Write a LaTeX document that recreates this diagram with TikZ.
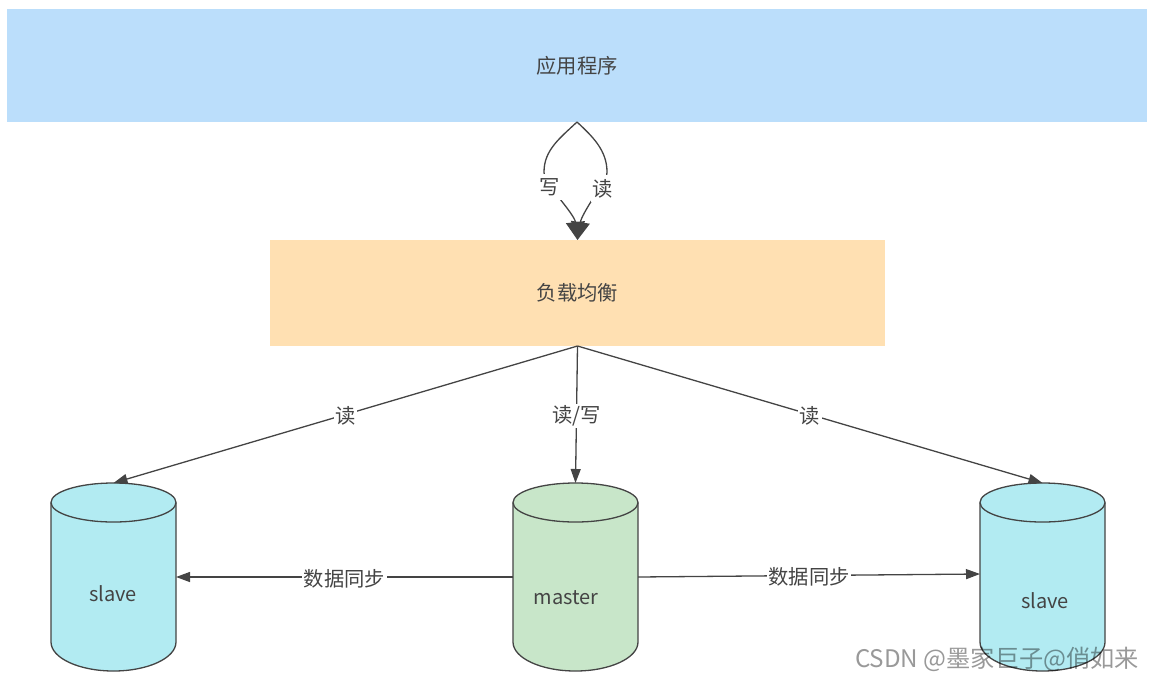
\documentclass[tikz,border=0pt]{standalone}
\usepackage{fontspec}
\setmainfont{Noto Sans CJK SC}
\usetikzlibrary{arrows.meta}
\definecolor{appblue}{HTML}{BBDEFB}
\definecolor{balanceorange}{HTML}{FFE0B2}
\definecolor{slavecyan}{HTML}{B2EBF2}
\definecolor{mastergreen}{HTML}{C8E6C9}
\definecolor{inkgray}{HTML}{444444}
\tikzset{
    boxnode/.style={draw=none, minimum width=#1, inner sep=0pt, outer sep=0pt, text=inkgray, font=\fontsize{20.3}{24}\selectfont},
    dbnode/.style={minimum width=125pt, minimum height=188pt, inner sep=0pt, outer sep=0pt},
    dbline/.style={draw=inkgray, line width=1.3pt},
    dbtext/.style={text=inkgray, font=\fontsize{20}{24}\selectfont},
    edgetext/.style={fill=white, text=inkgray, inner sep=1.5pt, yshift=-1.5pt, font=\fontsize{20.3}{24}\selectfont},
    link/.style={draw=inkgray, line width=1.3pt, -{Triangle[length=14pt,width=10pt]}},
    biglink/.style={draw=inkgray, line width=1.3pt, -{Triangle[length=18pt,width=19pt]}}
}
% name, fill
\newcommand{\drawdb}[2]{
    \draw[dbline, fill=#2]
        ([yshift=-19.5pt]#1.north west)
        arc[start angle=180, end angle=0, x radius=62.5pt, y radius=19.5pt] --
        ([yshift=29pt]#1.south east)
        arc[start angle=0, end angle=-180, x radius=62.5pt, y radius=29pt] --
        cycle;
    \draw[dbline]
        ([yshift=-19.5pt]#1.north west)
        arc[start angle=180, end angle=360, x radius=62.5pt, y radius=19.5pt];
}
\begin{document}
\begin{tikzpicture}[x=1pt, y=-1pt]
    \useasboundingbox (0,0) rectangle (1174,688);

    % boxes
    \node[boxnode=1140pt, fill=appblue, minimum height=113pt] (app) at (577,65.5) {\raisebox{-1pt}{应用程序}};
    \node[boxnode=615pt, fill=balanceorange, minimum height=106pt] (balance) at (577.5,293) {\raisebox{-1pt}{负载均衡}};

    % databases
    \node[dbnode] (slaveL) at (113.5,577) {};
    \node[dbnode] (master) at (575.5,577) {};
    \node[dbnode] (slaveR) at (1042.5,577) {};
    \drawdb{slaveL}{slavecyan}
    \drawdb{master}{mastergreen}
    \drawdb{slaveR}{slavecyan}
    \node[dbtext] (slaveLtext) at (113,594) {slave};
    \node[dbtext] (mastertext) at (566,598) {master};
    \node[dbtext] (slaveRtext) at (1045,601) {slave};

    % app to balance
    \draw[biglink]
        (app.south) .. controls (560,138) and (544,150) .. (544,172)
        .. controls (544,182) and (552,190) .. (560,199)
        .. controls (567,208) and (575,218) .. (balance.north);
    \draw[biglink]
        (app.south) .. controls (592,136) and (607,150) .. (607,172)
        .. controls (607,184) and (598,190) .. (592,200)
        .. controls (587,208) and (581,218) .. (balance.north);
    \node[edgetext, inner ysep=4pt] (writelabel) at (550,185.5) {写};
    \node[edgetext, inner ysep=4pt] (readlabel) at (603,187) {读};

    % balance to databases
    \draw[link]
        (balance.south) --
        (slaveL.north) node[edgetext, midway] (readL) {读};
    \draw[link]
        (balance.south) --
        (master.north) node[edgetext, midway] (readwrite) {读/写};
    \draw[link]
        (balance.south) --
        (slaveR.north) node[edgetext, midway] (readR) {读};

    % sync
    \draw[link]
        (master.west) --
        (slaveL.east) node[edgetext, midway] (syncL) {数据同步};
    \draw[link]
        (master.east) --
        ([yshift=3pt]slaveR.west) node[edgetext, midway] (syncR) {数据同步};

    % watermark
    \node[text=black, opacity=0.4, font=\fontsize{24.2}{28}\selectfont] (mark) at (997,659) {CSDN @墨家巨子@俏如来};
\end{tikzpicture}
\end{document}
